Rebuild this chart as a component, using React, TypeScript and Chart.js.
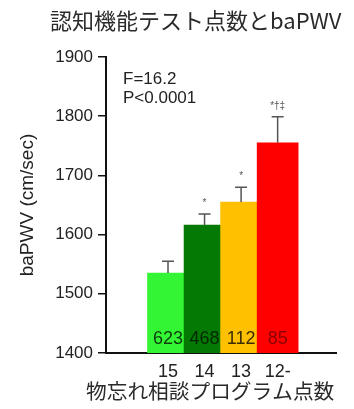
import React, { useEffect, useRef } from "react";
import { Chart, registerables } from "chart.js";

Chart.register(...registerables);

const chartTitle = "認知機能テスト点数とbaPWV";
const xAxisTitle = "物忘れ相談プログラム点数";
const yAxisTitle = "baPWV (cm/sec)";
const categories = ["15", "14", "13", "12-"];
const means = [1535, 1616, 1655, 1755];
const errors = [20, 19, 25, 44];
const counts = ["623", "468", "112", "85"];
const sigMarks = ["", "*", "*", "*†‡"];
const statLines = ["F=16.2", "P<0.0001"];
const yMin = 1400;
const yMax = 1900;
const yStep = 100;

const barColors = ["#33F533", "#047A04", "#FFC000", "#FF0000"];
const countColors = ["#0E3A0E", "#022602", "#3A2C00", "#8A0000"];

const FONT = '"Liberation Sans", Arial, "Noto Sans CJK JP", sans-serif';
const CJK_FONT = '"Noto Sans CJK JP", "Liberation Sans", sans-serif';

const overlayPlugin = {
  id: "overlay",
  afterDatasetsDraw(chart: any) {
    const ctx = chart.ctx;
    const meta = chart.getDatasetMeta(0);
    const y = chart.scales.y;
    ctx.save();
    ctx.strokeStyle = "#555";
    ctx.lineWidth = 1.5;
    meta.data.forEach((bar: any, i: number) => {
      const top = y.getPixelForValue(means[i] + errors[i]);
      ctx.beginPath();
      ctx.moveTo(bar.x, bar.y);
      ctx.lineTo(bar.x, top);
      ctx.moveTo(bar.x - 6, top);
      ctx.lineTo(bar.x + 6, top);
      ctx.stroke();
      if (sigMarks[i]) {
        ctx.fillStyle = "#555";
        ctx.font = `10px ${FONT}`;
        ctx.textAlign = "center";
        ctx.textBaseline = "middle";
        ctx.fillText(sigMarks[i], bar.x, top - 11);
      }
      ctx.fillStyle = countColors[i];
      ctx.font = `18px ${FONT}`;
      ctx.textAlign = "center";
      ctx.textBaseline = "middle";
      ctx.fillText(counts[i], bar.x, 339);
    });
    ctx.fillStyle = "#222";
    ctx.font = `17px ${FONT}`;
    ctx.textAlign = "left";
    ctx.textBaseline = "middle";
    statLines.forEach((s, k) => ctx.fillText(s, 123, 79 + k * 19));
    ctx.font = `22px ${CJK_FONT}`;
    ctx.fillStyle = "#2a2a2a";
    ctx.textAlign = "left";
    ctx.fillText(chartTitle, 50, 21);
    ctx.font = `20.7px ${CJK_FONT}`;
    ctx.fillText(xAxisTitle, 86, 391);
    ctx.restore();
  },
};

export default function App() {
  const ref = useRef<HTMLCanvasElement | null>(null);
  useEffect(() => {
    document.body.style.margin = "0";
    const canvas = ref.current!;
    const chart = new Chart(canvas, {
      type: "bar",
      data: {
        datasets: [
          {
            data: means.map((v, i) => ({ x: i, y: v })),
            backgroundColor: barColors,
            borderWidth: 0,
            barThickness: 41,
          },
        ],
      },
      options: {
        responsive: false,
        animation: false,
        devicePixelRatio: 1,
        layout: { padding: { top: 57, right: 18, left: 0, bottom: 0 } },
        plugins: { legend: { display: false }, tooltip: { enabled: false }, title: { display: false } },
        scales: {
          x: {
            type: "linear",
            min: -0.91,
            max: 3.81,
            afterFit(scale: any) {
              scale.height = 56;
            },
            afterBuildTicks(scale: any) {
              scale.ticks = categories.map((_, i) => ({ value: i }));
            },
            grid: { display: true, drawOnChartArea: false, drawTicks: false },
            border: { display: true, color: "#111", width: 2 },
            ticks: {
              padding: 8,
              color: "#222",
              font: { family: FONT, size: 18 },
              callback: (v: any) => categories[v as number] ?? "",
              autoSkip: false,
              maxRotation: 0,
            },
          },
          y: {
            min: yMin,
            max: yMax,
            afterFit(scale: any) {
              scale.width = 106;
            },
            grid: { display: true, drawOnChartArea: false, drawTicks: true, tickLength: 8, color: "#111", lineWidth: 1.5 },
            border: { display: true, color: "#111", width: 2 },
            ticks: {
              stepSize: yStep,
              padding: 5,
              color: "#222",
              font: { family: FONT, size: 17 },
              callback: (v: any) => String(v),
            },
            title: {
              display: true,
              text: yAxisTitle,
              color: "#222",
              font: { family: FONT, size: 19, weight: "normal" },
              padding: { top: 16, bottom: 0 },
            },
          },
        },
      },
      plugins: [overlayPlugin],
    } as any);
    return () => chart.destroy();
  }, []);
  return (
    <div style={{ position: "absolute", left: 0, top: 0, width: 354, height: 409, background: "#fff" }}>
      <canvas ref={ref} width={354} height={409} style={{ width: 354, height: 409, display: "block" }} />
    </div>
  );
}
